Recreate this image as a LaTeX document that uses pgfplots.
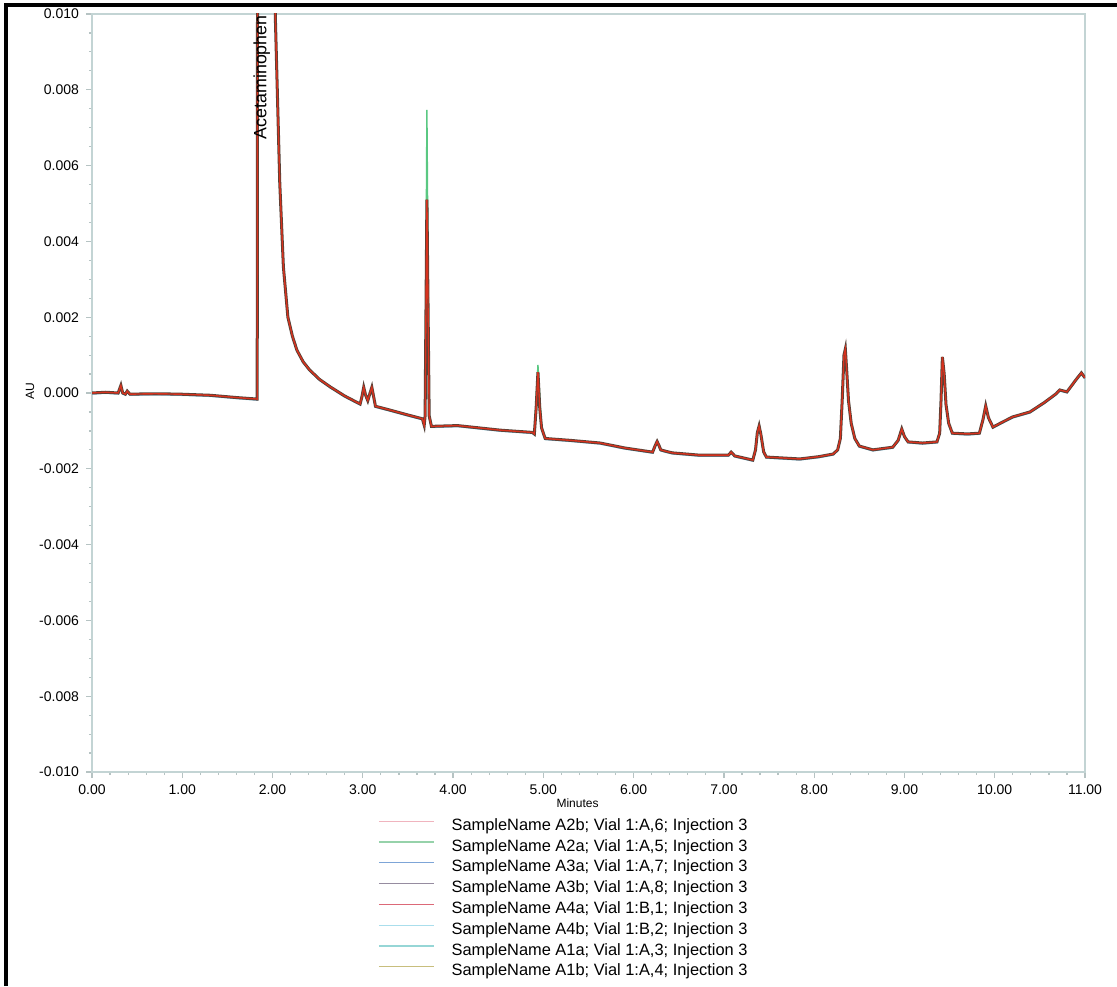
\documentclass[border=0pt]{standalone}
\usepackage{pgfplots}
\pgfplotsset{compat=1.18}
\usepackage{fontspec}
\setmainfont{Liberation Sans}
\definecolor{axcol}{RGB}{195,212,212}
\definecolor{cA2b}{RGB}{240,180,190}
\definecolor{cA2a}{RGB}{150,210,170}
\definecolor{cA3a}{RGB}{125,165,215}
\definecolor{cA3b}{RGB}{150,140,160}
\definecolor{cA4a}{RGB}{220,105,120}
\definecolor{cA4b}{RGB}{170,222,236}
\definecolor{cA1a}{RGB}{150,214,214}
\definecolor{cA1b}{RGB}{200,190,125}
\definecolor{trred}{RGB}{215,50,30}
\definecolor{trdark}{RGB}{85,65,55}
\definecolor{trgreen}{RGB}{90,200,130}
\begin{document}
\begin{tikzpicture}
\useasboundingbox (0,0) rectangle (558.5pt,493pt);
\begin{axis}[
  at={(46pt,107pt)}, anchor=south west,
  scale only axis, width=496.5pt, height=379pt,
  xmin=0, xmax=11, ymin=-0.010, ymax=0.010,
  xtick={0,1,...,11}, ytick={-0.010,-0.008,...,0.0101},
  minor x tick num=4, minor y tick num=3,
  tick pos=left, tick align=outside,
  major tick length=3pt, minor tick length=1.6pt,
  every tick/.style={axcol!80!gray, line width=0.6pt},
  axis line style={axcol, line width=0.7pt},
  scaled y ticks=false,
  /pgf/number format/assume math mode=true,
  xticklabel style={/pgf/number format/.cd, fixed, fixed zerofill, precision=2},
  yticklabel style={/pgf/number format/.cd, fixed, fixed zerofill, precision=3},
  ticklabel style={font=\fontsize{7}{8}\selectfont},
  xlabel={Minutes},
  xlabel style={font=\fontsize{6}{7}\selectfont, at={(axis description cs:0.489,0)}, anchor=center, yshift=-15.5pt},
  clip=true,
  legend style={at={(axis description cs:0.288,-0.060)}, anchor=north west, draw=none, fill=none,
    font=\fontsize{8.2}{9}\selectfont, row sep=2pt, column sep=8.5pt, inner sep=0pt,
    nodes={inner sep=0pt, text height=6.2pt, text depth=2.2pt}},
  legend cell align=left,
  legend image code/.code={\draw[#1] (0pt,2.5pt) -- (27.5pt,2.5pt);},
]
\pgfplotstableread{
x y
0.00 0.00000
0.15 0.00002
0.29 0.00000
0.32 0.00020
0.34 0.00000
0.37 -0.00003
0.39 0.00005
0.42 -0.00003
0.70 -0.00002
0.97 -0.00003
1.31 -0.00006
1.60 -0.00012
1.83 -0.00016
1.84 0.03000
1.95 0.05000
2.03 0.01000
2.08 0.00554
2.12 0.00333
2.17 0.00200
2.22 0.00150
2.27 0.00113
2.34 0.00082
2.41 0.00061
2.52 0.00036
2.64 0.00016
2.80 -0.00008
2.97 -0.00029
2.99 -0.00010
3.01 0.00015
3.03 -0.00005
3.055 -0.00020
3.08 0.00000
3.10 0.00015
3.12 -0.00010
3.14 -0.00035
3.30 -0.00045
3.50 -0.00058
3.66 -0.00068
3.68 -0.00085
3.69 -0.00060
3.71 0.00510
3.735 -0.00060
3.76 -0.00088
4.05 -0.00086
4.52 -0.00098
4.88 -0.00104
4.90 -0.00108
4.92 -0.00040
4.94 0.00055
4.96 -0.00040
4.98 -0.00092
5.02 -0.00120
5.30 -0.00125
5.63 -0.00132
5.90 -0.00145
6.21 -0.00156
6.24 -0.00138
6.26 -0.00128
6.28 -0.00138
6.30 -0.00150
6.36 -0.00154
6.43 -0.00158
6.73 -0.00164
7.05 -0.00164
7.08 -0.00156
7.12 -0.00166
7.32 -0.00177
7.35 -0.00150
7.37 -0.00105
7.39 -0.00087
7.41 -0.00110
7.44 -0.00155
7.47 -0.00169
7.84 -0.00174
8.05 -0.00168
8.21 -0.00161
8.26 -0.00150
8.29 -0.00120
8.31 -0.00020
8.33 0.00100
8.345 0.00116
8.36 0.00060
8.38 -0.00020
8.41 -0.00080
8.45 -0.00120
8.50 -0.00140
8.65 -0.00150
8.87 -0.00143
8.93 -0.00125
8.97 -0.00095
9.00 -0.00115
9.04 -0.00129
9.20 -0.00132
9.36 -0.00129
9.39 -0.00106
9.405 -0.00020
9.42 0.00095
9.44 0.00050
9.46 -0.00030
9.49 -0.00080
9.53 -0.00106
9.70 -0.00108
9.83 -0.00106
9.87 -0.00070
9.90 -0.00034
9.93 -0.00065
9.98 -0.00090
10.10 -0.00075
10.20 -0.00063
10.39 -0.00050
10.55 -0.00025
10.68 -0.00002
10.72 0.00008
10.80 0.00003
10.90 0.00035
10.96 0.00053
11.00 0.00040
}\trace
% underlying series (all overlap)
\addplot[cA2b, line width=0.6pt, forget plot] table {\trace};
\addplot[cA4b, line width=0.6pt, forget plot, yshift=-0.6pt] table {\trace};
\addplot[cA1a, line width=0.6pt, forget plot] table {\trace};
\addplot[cA1b, line width=0.6pt, forget plot] table {\trace};
\addplot[cA3a, line width=0.6pt, forget plot, yshift=-0.4pt] table {\trace};
\addplot[trgreen, line width=0.7pt, forget plot] coordinates {(3.69,-0.0006) (3.71,0.00747) (3.735,-0.0006)};
\addplot[trgreen, line width=0.7pt, forget plot] coordinates {(4.90,-0.00108) (4.94,0.00074) (4.98,-0.00092)};
\addplot[trdark, line width=1.5pt, forget plot] table {\trace};
\addplot[trred, line width=0.7pt, forget plot] table {\trace};
\node[rotate=90, anchor=east, inner sep=0.5pt, font=\fontsize{8.9}{10}\selectfont] at (axis cs:1.88,0.010) {Acetaminophen};
% legend
\addlegendimage{cA2b, line width=0.6pt}\addlegendentry{SampleName A2b; Vial 1:A,6; Injection 3}
\addlegendimage{cA2a, line width=0.6pt}\addlegendentry{SampleName A2a; Vial 1:A,5; Injection 3}
\addlegendimage{cA3a, line width=0.6pt}\addlegendentry{SampleName A3a; Vial 1:A,7; Injection 3}
\addlegendimage{cA3b, line width=0.6pt}\addlegendentry{SampleName A3b; Vial 1:A,8; Injection 3}
\addlegendimage{cA4a, line width=0.6pt}\addlegendentry{SampleName A4a; Vial 1:B,1; Injection 3}
\addlegendimage{cA4b, line width=0.6pt}\addlegendentry{SampleName A4b; Vial 1:B,2; Injection 3}
\addlegendimage{cA1a, line width=0.6pt}\addlegendentry{SampleName A1a; Vial 1:A,3; Injection 3}
\addlegendimage{cA1b, line width=0.6pt}\addlegendentry{SampleName A1b; Vial 1:A,4; Injection 3}
\end{axis}
\node[rotate=90, font=\fontsize{6}{7}\selectfont, inner sep=0pt] at (15pt,297.5pt) {AU};
\draw[black, line width=1.6pt] (3pt,0pt) -- (3pt,490.5pt) -- (558.5pt,490.5pt);
\end{tikzpicture}
\end{document}
